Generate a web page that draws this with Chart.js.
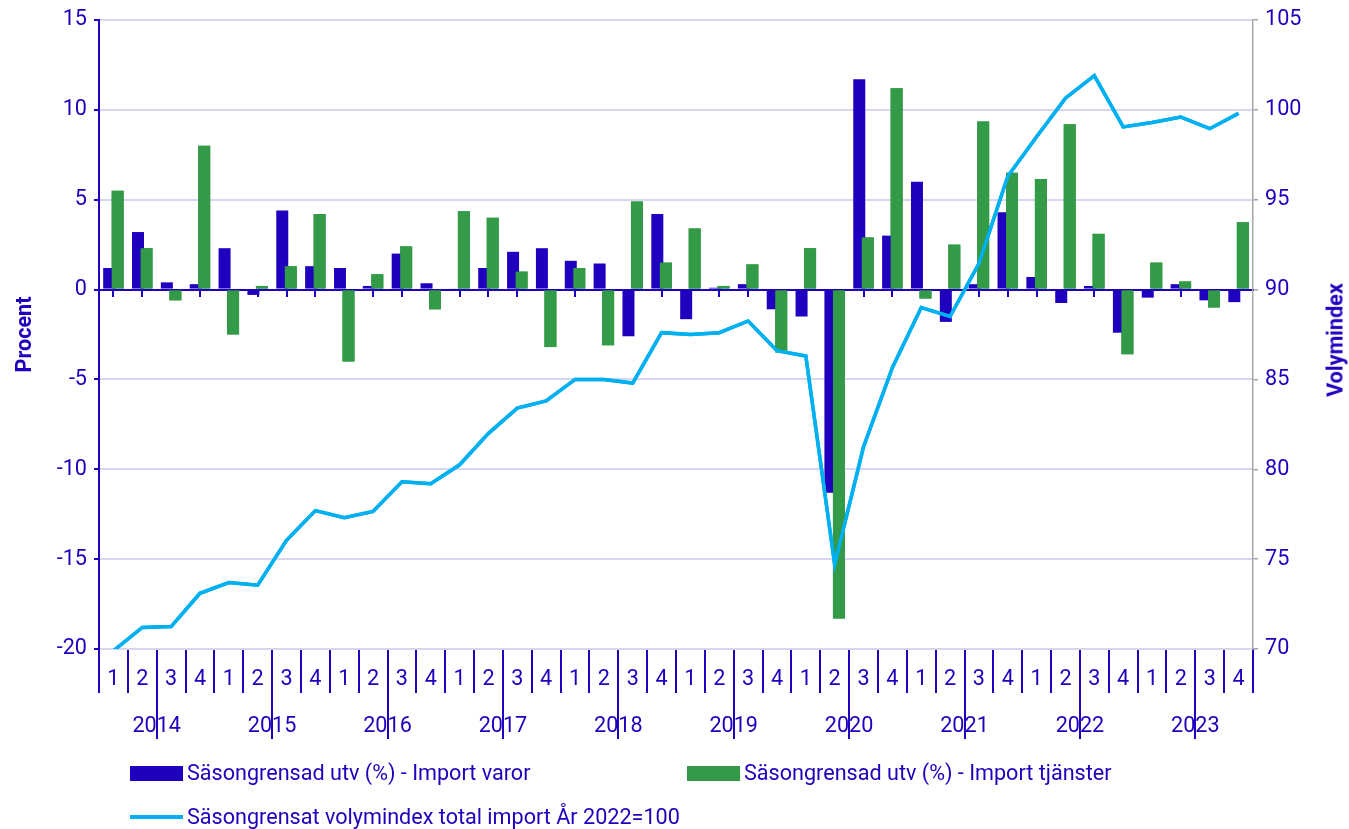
<!DOCTYPE html>
<html><head><meta charset="utf-8">
<script src="https://cdn.jsdelivr.net/npm/chart.js@4.4.0/dist/chart.umd.min.js"></script>
<style>
html,body{margin:0;padding:0;background:#fff;}
#wrap{position:relative;width:1349px;height:829px;font-family:Roboto,sans-serif;color:#1e00be;overflow:hidden;}
#c{position:absolute;left:0;top:0;}
.lt{position:absolute;font-size:21.6px;line-height:24px;white-space:nowrap;transform:translateY(-50%);}
.sw{position:absolute;}
#rt{position:absolute;left:1335px;top:340px;font-weight:bold;font-size:21.6px;white-space:nowrap;transform:translate(-50%,-50%) rotate(-90deg);}
</style></head>
<body>
<div id="wrap">
<canvas id="c" width="1349" height="829"></canvas>
<div id="rt">Volymindex</div>
<div class="sw" style="left:130px;top:766px;width:53px;height:15px;background:#1e00be"></div>
<div class="lt" id="l1" style="left:187px;top:773px"></div>
<div class="sw" style="left:687px;top:766px;width:53px;height:15px;background:#339a47"></div>
<div class="lt" id="l2" style="left:744px;top:773px"></div>
<div class="sw" style="left:130px;top:815px;width:53px;height:4px;background:#00b0f0"></div>
<div class="lt" id="l3" style="left:187px;top:817px"></div>
</div>
<script>
const years = ['2014','2015','2016','2017','2018','2019','2020','2021','2022','2023'];
const quarterTicks = ['1','2','3','4'];

const seriesNames = [
  'Säsongrensad utv (%) - Import varor',
  'Säsongrensad utv (%) - Import tjänster',
  'Säsongrensat volymindex total import År 2022=100'
];

const importVaror = [
  1.2, 3.2, 0.4, 0.3,
  2.3, -0.3, 4.4, 1.3,
  1.2, 0.2, 2.0, 0.35,
  0.05, 1.2, 2.1, 2.3,
  1.6, 1.45, -2.6, 4.2,
  -1.65, 0.1, 0.3, -1.1,
  -1.5, -11.3, 11.7, 3.0,
  6.0, -1.8, 0.3, 4.3,
  0.7, -0.75, 0.2, -2.4,
  -0.45, 0.3, -0.6, -0.7
];

const importTjanster = [
  5.5, 2.3, -0.6, 8.0,
  -2.5, 0.2, 1.3, 4.2,
  -4.0, 0.85, 2.4, -1.1,
  4.35, 4.0, 1.0, -3.2,
  1.2, -3.1, 4.9, 1.5,
  3.4, 0.2, 1.4, -3.5,
  2.3, -18.3, 2.9, 11.2,
  -0.5, 2.5, 9.35, 6.5,
  6.15, 9.2, 3.1, -3.6,
  1.5, 0.45, -1.0, 3.75
];

const volymindex = [
  69.9, 71.2, 71.25, 73.1,
  73.7, 73.55, 76.05, 77.7,
  77.3, 77.65, 79.3, 79.2,
  80.25, 82.0, 83.4, 83.8,
  85.0, 85.0, 84.8, 87.6,
  87.5, 87.6, 88.25, 86.6,
  86.3, 74.7, 81.25, 85.65,
  89.0, 88.5, 91.45, 96.3,
  98.5, 100.65, 101.9, 99.05,
  99.3, 99.6, 98.95, 99.8
];

const labels = [];
years.forEach(() => quarterTicks.forEach(q => labels.push(q)));

document.getElementById('l1').textContent = seriesNames[0];
document.getElementById('l2').textContent = seriesNames[1];
document.getElementById('l3').textContent = seriesNames[2];

const BLUE = '#1e00be', GREEN = '#339a47', LINE = '#00b0f0', GRID = '#d6d6f0', GRAY = '#a6a6a6';
const FONT = {family: 'Roboto', size: 21.6};
const barOpts = {categoryPercentage: 0.59, barPercentage: 1.41};

// Draw the services bars (and the index line) again on top, so the green bar overlaps the blue one.
const overlapPlugin = {
  id: 'overlapOnTop',
  afterDatasetsDraw(chart) {
    const ctx = chart.ctx;
    Chart.helpers.clipArea(ctx, chart.chartArea);
    [1, 2].forEach(i => chart.getDatasetMeta(i).controller.draw());
    Chart.helpers.unclipArea(ctx);
  }
};

new Chart(document.getElementById('c'), {
  data: {
    labels: labels,
    datasets: [
      Object.assign({type: 'bar', label: seriesNames[0], data: importVaror, backgroundColor: BLUE, xAxisID: 'x', yAxisID: 'y', order: 1}, barOpts),
      Object.assign({type: 'bar', label: seriesNames[1], data: importTjanster, backgroundColor: GREEN, xAxisID: 'x', yAxisID: 'y', order: 2}, barOpts),
      {type: 'line', label: seriesNames[2], data: volymindex, borderColor: LINE, borderWidth: 3.5, pointRadius: 0, tension: 0, xAxisID: 'x', yAxisID: 'y1', order: 0}
    ]
  },
  plugins: [overlapPlugin],
  options: {
    responsive: false,
    animation: false,
    events: [],
    layout: {padding: {top: 18, left: 0, right: 0, bottom: 90}},
    plugins: {legend: {display: false}, tooltip: {enabled: false}},
    scales: {
      x: {
        type: 'category', axis: 'x', position: 'bottom', weight: 0, offset: true,
        afterFit: s => { s.height = 44; },
        grid: {drawOnChartArea: false, color: BLUE, lineWidth: 2, tickLength: 44},
        border: {display: false},
        ticks: {color: BLUE, font: FONT, padding: -26, maxRotation: 0, autoSkip: false}
      },
      xYear: {
        type: 'category', axis: 'x', labels: years, position: 'bottom', weight: 1, offset: true,
        afterFit: s => { s.height = 46; },
        grid: {drawOnChartArea: false, color: BLUE, lineWidth: 2, tickLength: 46},
        border: {display: false},
        ticks: {color: BLUE, font: FONT, padding: -25, maxRotation: 0, autoSkip: false}
      },
      xz: {
        type: 'category', axis: 'x', position: {y: 0}, offset: true, z: 1,
        afterFit: s => { s.height = 0; },
        grid: {drawOnChartArea: false, color: BLUE, lineWidth: 2, tickLength: 6},
        border: {color: BLUE, width: 2},
        ticks: {display: false}
      },
      y: {
        position: 'left', min: -20, max: 15,
        afterFit: s => { s.width = 99; },
        ticks: {stepSize: 5, color: BLUE, font: FONT, padding: 7},
        grid: {color: GRID, lineWidth: 2, tickColor: BLUE, tickLength: 5},
        border: {color: BLUE, width: 2},
        title: {display: true, text: 'Procent', color: BLUE, font: {family: 'Roboto', size: 21.6, weight: 'bold'}, padding: {top: 13, bottom: 0}}
      },
      y1: {
        position: 'right', min: 70, max: 105,
        afterFit: s => { s.width = 96; },
        ticks: {stepSize: 5, color: BLUE, font: FONT, padding: 7},
        grid: {drawOnChartArea: false, color: GRAY, lineWidth: 1.5, tickLength: 5},
        border: {color: GRAY, width: 1.5}
      }
    }
  }
});
</script>
</body></html>
